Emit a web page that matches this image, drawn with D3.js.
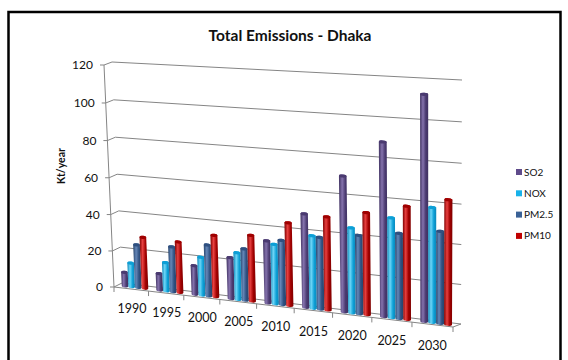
<!DOCTYPE html>
<html>
<head>
<meta charset="utf-8">
<script src="https://cdn.jsdelivr.net/npm/d3@7"></script>
<style>
  body { margin: 0; background: #fff; }
  svg { display: block; }
  text { font-family: Lato, "Open Sans", sans-serif; fill: #111; }
</style>
</head>
<body>
<div id="chart"></div>
<script>
//
// 3D clustered cylinder chart - Total Emissions Dhaka
//

const years = ["1990", "1995", "2000", "2005", "2010", "2015", "2020", "2025", "2030"];
const seriesNames = ["SO2", "NOX", "PM2.5", "PM10"];
const so2 = [7.5, 9, 15.5, 22, 33, 49, 70, 88.5, 113];
const nox = [13, 15.5, 20.5, 25, 31.5, 38, 44, 51, 58];
const pm25 = [23.5, 24.5, 27.5, 27.5, 34, 37.5, 40.5, 43.5, 46.5];
const pm10 = [28, 27.5, 33, 35, 43.5, 48.5, 52.5, 57.5, 62.5];
const yTicks = [0, 20, 40, 60, 80, 100, 120];
const seriesColors = [
    ['#3f3160', '#8573ad', '#4a3a70'],   // SO2
    ['#0a86b8', '#6fd6f7', '#0c9fd6'],   // NOX
    ['#27446c', '#6587b8', '#2f5080'],   // PM2.5
    ['#7e0000', '#e84040', '#a00000']    // PM10
];
const legendColors = ['#5f4b8b', '#17b2ea', '#3a6196', '#c00000'];

const width = 568, height = 360;

// maps the unit square onto a screen quad (perspective)
function makeQuad(p00, p10, p11, p01) {
    var dx1 = p10[0] - p11[0], dx2 = p01[0] - p11[0], dx3 = p00[0] - p10[0] + p11[0] - p01[0];
    var dy1 = p10[1] - p11[1], dy2 = p01[1] - p11[1], dy3 = p00[1] - p10[1] + p11[1] - p01[1];
    var den = dx1 * dy2 - dx2 * dy1;
    var g = (dx3 * dy2 - dx2 * dy3) / den;
    var h = (dx1 * dy3 - dx3 * dy1) / den;
    var a = p10[0] - p00[0] + g * p10[0], b = p01[0] - p00[0] + h * p01[0], c = p00[0];
    var d = p10[1] - p00[1] + g * p10[1], e = p01[1] - p00[1] + h * p01[1], f = p00[1];
    return function (u, w) {
        var z = g * u + h * w + 1;
        return [(a * u + b * w + c) / z, (d * u + e * w + f) / z];
    };
}

var front = makeQuad([114, 287], [453, 327], [454, 83], [104, 65]);
var back = makeQuad([122, 283], [461, 324], [462, 80], [112, 62]);

var x = d3.scaleBand().domain(years).range([0, 1]);
var xs = d3.scaleBand().domain(seriesNames).range([x.bandwidth() * 0.11, x.bandwidth() * 0.88]);
var y = d3.scaleLinear().domain([0, 120]).range([0, 1]);

function P(u, v, depth) {
    var f = front(u, y(v)), b = back(u, y(v));
    return [f[0] + (b[0] - f[0]) * depth, f[1] + (b[1] - f[1]) * depth];
}

var svg = d3.select("#chart").append("svg")
    .attr("width", width)
    .attr("height", height);

var defs = svg.append("defs");
seriesColors.forEach(function (c, i) {
    var grad = defs.append("linearGradient")
        .attr("id", "cyl" + i)
        .attr("x1", 0).attr("x2", 1).attr("y1", 0).attr("y2", 0);
    grad.append("stop").attr("offset", "0%").attr("stop-color", c[0]);
    grad.append("stop").attr("offset", "35%").attr("stop-color", c[1]);
    grad.append("stop").attr("offset", "70%").attr("stop-color", c[2]);
    grad.append("stop").attr("offset", "100%").attr("stop-color", c[0]);
});

// frame
svg.append("rect")
    .attr("x", 8.5).attr("y", 12)
    .attr("width", 552).attr("height", 360)
    .attr("fill", "none")
    .attr("stroke", "#000")
    .attr("stroke-width", 2.5);

// title
svg.append("text")
    .attr("x", 290).attr("y", 41)
    .attr("text-anchor", "middle")
    .attr("font-size", "15.5px")
    .attr("font-weight", "bold")
    .text("Total Emissions - Dhaka");

var gridColor = "#858585";
var lineGen = d3.line();

// side wall + back wall gridlines
var grid = svg.append("g").attr("fill", "none").attr("stroke", gridColor).attr("stroke-width", 1);
yTicks.forEach(function (v) {
    grid.append("path").attr("d", lineGen([P(0, v, 0), P(0, v, 1), P(1, v, 1)]));
});

// floor
grid.append("path")
    .attr("d", lineGen([P(0, 0, 0), P(1, 0, 0), P(1, 0, 1)]));

// vertical axis on the front-left edge
grid.append("path").attr("d", lineGen([P(0, 0, 0), P(0, 120, 0)]));
yTicks.forEach(function (v) {
    var p = P(0, v, 0);
    grid.append("path").attr("d", lineGen([[p[0] - 4, p[1]], p]));
});

// category ticks
d3.range(0, years.length + 1).forEach(function (i) {
    var p = P(i / years.length, 0, 0);
    grid.append("path").attr("d", lineGen([p, [p[0], p[1] + 5]]));
});

// y tick labels
svg.append("g").selectAll("text")
    .data(yTicks)
    .join("text")
    .attr("x", d => P(0, d, 0)[0] - 11)
    .attr("y", d => P(0, d, 0)[1])
    .attr("dy", "0.35em")
    .attr("text-anchor", "end")
    .attr("font-size", "12px")
    .text(d => d);

// x labels
svg.append("g").selectAll("text")
    .data(years)
    .join("text")
    .attr("x", d => P(x(d) + x.bandwidth() / 2, -11, 0)[0])
    .attr("y", d => P(x(d) + x.bandwidth() / 2, -11, 0)[1])
    .attr("dy", "0.35em")
    .attr("text-anchor", "middle")
    .attr("font-size", "12.5px")
    .text(d => d);

// y title
svg.append("text")
    .attr("transform", "translate(61,166) rotate(-90)")
    .attr("text-anchor", "middle")
    .attr("dy", "0.35em")
    .attr("font-size", "10.5px")
    .attr("font-weight", "bold")
    .text("Kt/year");

// bars
var allSeries = [so2, nox, pm25, pm10];
var bars = [];
years.forEach(function (yr, i) {
    seriesNames.forEach(function (s, k) {
        bars.push({ year: yr, series: k, value: allSeries[k][i] });
    });
});

var barDepth = 0.5;
var gBars = svg.append("g");
bars.forEach(function (b) {
    var u0 = x(b.year) + xs(seriesNames[b.series]);
    var u1 = u0 + xs.bandwidth();
    var tl = P(u0, b.value, barDepth), tr = P(u1, b.value, barDepth);
    var bl = P(u0, 0, barDepth), br = P(u1, 0, barDepth);
    var rx = (tr[0] - tl[0]) / 2, ry = 1.6;
    var ang = Math.atan2(tr[1] - tl[1], tr[0] - tl[0]) * 180 / Math.PI;
    var d = "M" + tl + "L" + bl +
        "A" + rx + "," + ry + " " + ang + " 0 0 " + br +
        "L" + tr +
        "A" + rx + "," + ry + " " + ang + " 0 0 " + tl + "Z";
    gBars.append("path")
        .attr("d", d)
        .attr("fill", "url(#cyl" + b.series + ")");
    gBars.append("ellipse")
        .attr("cx", (tl[0] + tr[0]) / 2)
        .attr("cy", (tl[1] + tr[1]) / 2)
        .attr("rx", rx)
        .attr("ry", ry)
        .attr("transform", "rotate(" + ang + "," + (tl[0] + tr[0]) / 2 + "," + (tl[1] + tr[1]) / 2 + ")")
        .attr("fill", seriesColors[b.series][2]);
});

// legend
var legend = svg.append("g").selectAll("g")
    .data(seriesNames)
    .join("g")
    .attr("transform", (d, i) => "translate(516," + (172 + i * 21.3) + ")");
legend.append("rect")
    .attr("x", 0).attr("y", -3)
    .attr("width", 6).attr("height", 6)
    .attr("fill", (d, i) => legendColors[i]);
legend.append("text")
    .attr("x", 8).attr("dy", "0.35em")
    .attr("font-size", "10px")
    .text(d => d);
</script>
</body>
</html>
